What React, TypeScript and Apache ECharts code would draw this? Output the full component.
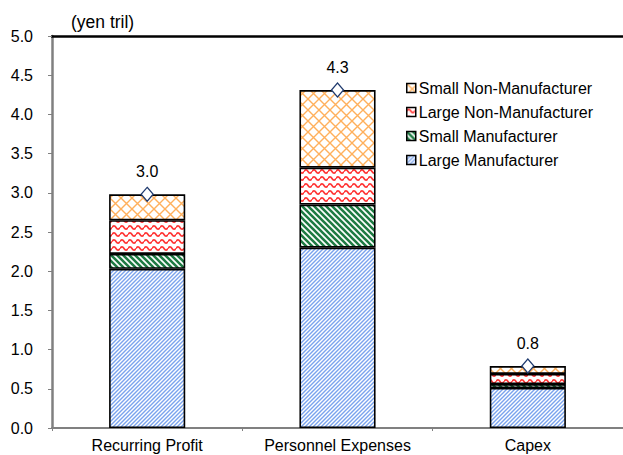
import React, { useEffect, useRef } from "react";
import * as echarts from "echarts";

// Categories and stacked components (yen trillion)
const categories = ["Recurring Profit", "Personnel Expenses", "Capex"];
const largeManufacturer = [2.03, 2.3, 0.51];
const smallManufacturer = [0.19, 0.55, 0.05];
const largeNonManufacturer = [0.43, 0.47, 0.13];
const smallNonManufacturer = [0.33, 0.99, 0.1];
const yTicks = { min: 0, max: 5, interval: 0.5 };
const unitLabel = "(yen tril)";

const FONT = "'Liberation Sans', Arial, sans-serif";

// Small SVG tiles used as repeating fill patterns
function tile(w: number, h: number, body: string) {
  const svg = `<svg xmlns="http://www.w3.org/2000/svg" width="${w}" height="${h}" viewBox="0 0 ${w} ${h}"><rect width="${w}" height="${h}" fill="#ffffff"/>${body}</svg>`;
  return {
    image: "data:image/svg+xml;utf8," + encodeURIComponent(svg),
    repeat: "repeat",
    imageWidth: w,
    imageHeight: h,
  };
}

const forwardStripes = (s: number, color: string, width: number) =>
  tile(
    s,
    s,
    `<path d="M0,${s} L${s},0 M-1,1 L1,-1 M${s - 1},${s + 1} L${s + 1},${s - 1}" stroke="${color}" stroke-width="${width}" fill="none"/>`
  );

const backStripes = (s: number, color: string, width: number) =>
  tile(
    s,
    s,
    `<path d="M0,0 L${s},${s} M-1,${s - 1} L1,${s + 1} M${s - 1},-1 L${s + 1},1" stroke="${color}" stroke-width="${width}" fill="none"/>`
  );

const waves = (w: number, h: number, amp: number, color: string, width: number) =>
  tile(
    w,
    h,
    `<path d="M0,${h / 2} Q${w / 4},${h / 2 - 2 * amp} ${w / 2},${h / 2} T${w},${h / 2}" stroke="${color}" stroke-width="${width}" fill="none"/>`
  );

const crossHatch = (s: number, color: string, width: number) =>
  tile(
    s,
    s,
    `<path d="M0,0 L${s},${s} M0,${s} L${s},0" stroke="${color}" stroke-width="${width}" fill="none"/>`
  );

const patterns = {
  largeManufacturer: forwardStripes(4, "#7aa3ee", 1.4),
  smallManufacturer: backStripes(6, "#1e7b43", 2.6),
  largeNonManufacturer: waves(8, 7, 1.7, "#ff3535", 1.7),
  smallNonManufacturer: crossHatch(11, "#ffb05c", 1.4),
};

export default function App() {
  const ref = useRef<HTMLDivElement>(null);

  useEffect(() => {
    if (!ref.current) return;
    const chart = echarts.init(ref.current, undefined, { renderer: "svg" });

    const totals = categories.map(
      (_, i) =>
        largeManufacturer[i] +
        smallManufacturer[i] +
        largeNonManufacturer[i] +
        smallNonManufacturer[i]
    );

    const barSeries = (name: string, data: number[], color: any) => ({
      name,
      type: "bar",
      stack: "total",
      data,
      barWidth: "40%",
      itemStyle: { color, borderColor: "#000000", borderWidth: 1.6 },
      emphasis: { disabled: true },
    });

    chart.setOption({
      animation: false,
      textStyle: { fontFamily: FONT },
      title: {
        text: unitLabel,
        left: 71,
        top: 13,
        padding: 0,
        textStyle: { fontFamily: FONT, fontSize: 17.5, fontWeight: "normal", color: "#000" },
      },
      legend: {
        orient: "vertical",
        left: 401,
        top: 75,
        itemWidth: 9,
        itemHeight: 9,
        itemGap: 8,
        icon: "rect",
        data: [
          "Small Non-Manufacturer",
          "Large Non-Manufacturer",
          "Small Manufacturer",
          "Large Manufacturer",
        ],
        itemStyle: { borderColor: "#000", borderWidth: 1.5 },
        textStyle: { fontFamily: FONT, fontSize: 16, color: "#000", padding: [0, 0, 0, -2] },
      },
      grid: { left: 52, right: -2, top: 36, bottom: 27, containLabel: false },
      xAxis: [
        {
          type: "category",
          data: categories,
          axisLine: { lineStyle: { color: "#808080", width: 2 } },
          axisTick: { show: true, length: 3, lineStyle: { color: "#808080" } },
          axisLabel: { fontFamily: FONT, fontSize: 16, color: "#000", margin: 9, interval: 0 },
        },
        {
          type: "category",
          data: categories,
          position: "top",
          axisLine: { lineStyle: { color: "#000", width: 2.5 } },
          axisTick: { show: false },
          axisLabel: { show: false },
        },
      ],
      yAxis: {
        type: "value",
        min: yTicks.min,
        max: yTicks.max,
        interval: yTicks.interval,
        splitLine: { show: false },
        axisLine: { show: true, lineStyle: { color: "#808080", width: 2.5 } },
        axisTick: { show: true, length: 4, lineStyle: { color: "#808080" } },
        axisLabel: {
          fontFamily: FONT,
          fontSize: 16,
          color: "#000",
          margin: 19,
          formatter: (v: number) => v.toFixed(1),
        },
      },
      series: [
        barSeries("Large Manufacturer", largeManufacturer, patterns.largeManufacturer),
        barSeries("Small Manufacturer", smallManufacturer, patterns.smallManufacturer),
        barSeries("Large Non-Manufacturer", largeNonManufacturer, patterns.largeNonManufacturer),
        barSeries("Small Non-Manufacturer", smallNonManufacturer, patterns.smallNonManufacturer),
        {
          name: "Total",
          type: "scatter",
          data: totals,
          symbol: "diamond",
          symbolSize: [12, 14],
          z: 5,
          itemStyle: { color: "#ffffff", borderColor: "#1f3a6e", borderWidth: 1.3, opacity: 1 },
          label: {
            show: true,
            position: "top",
            distance: 7,
            fontFamily: FONT,
            fontSize: 16,
            color: "#000",
            formatter: (p: any) => Number(p.value).toFixed(1),
          },
          emphasis: { disabled: true },
        },
      ],
    });

    return () => chart.dispose();
  }, []);

  return (
    <div
      ref={ref}
      style={{ position: "absolute", left: 0, top: 0, width: 623, height: 455, background: "#fff" }}
    />
  );
}
